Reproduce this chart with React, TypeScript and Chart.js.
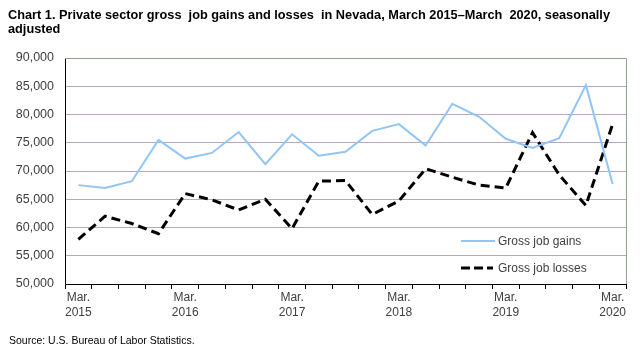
import React, { useEffect, useLayoutEffect, useRef } from 'react';
import { Chart, registerables } from 'chart.js';

Chart.register(...registerables);

const categories = [
  'Mar. 2015', 'Jun. 2015', 'Sep. 2015', 'Dec. 2015',
  'Mar. 2016', 'Jun. 2016', 'Sep. 2016', 'Dec. 2016',
  'Mar. 2017', 'Jun. 2017', 'Sep. 2017', 'Dec. 2017',
  'Mar. 2018', 'Jun. 2018', 'Sep. 2018', 'Dec. 2018',
  'Mar. 2019', 'Jun. 2019', 'Sep. 2019', 'Dec. 2019',
  'Mar. 2020',
];

const grossJobGains = [
  67500, 67000, 68200, 75500, 72200, 73200, 76900, 71200, 76500, 72700, 73400,
  77100, 78300, 74500, 81900, 79600, 75700, 74100, 75800, 85200, 67700,
];

const grossJobLosses = [
  57900, 62000, 60700, 58900, 66000, 64900, 63100, 65000, 59800, 68200, 68300,
  62300, 64700, 70400, 68900, 67500, 67000, 76800, 69300, 63900, 78300,
];

const yMin = 50000;
const yMax = 90000;
const yStep = 5000;

const titleLines = [
  'Chart 1. Private sector gross  job gains and losses  in Nevada, March 2015\u2013March  2020, seasonally',
  'adjusted',
];
const sourceText = 'Source: U.S. Bureau of Labor Statistics.';

const GAINS_COLOR = '#92c5f7';
const LOSSES_COLOR = '#000000';
const TEXT_COLOR = '#404040';
const FONT = '"Liberation Sans", Arial, sans-serif';
const TITLE_WIDTH = 602;

const frameAndLegend = {
  id: 'frameAndLegend',
  afterDatasetsDraw(chart: any) {
    const { ctx, chartArea } = chart;
    const { left, right, top, bottom } = chartArea;
    ctx.save();
    ctx.strokeStyle = '#8fa48f';
    ctx.lineWidth = 1;
    ctx.beginPath();
    ctx.moveTo(left, Math.round(top) + 0.5);
    ctx.lineTo(Math.round(right) + 0.5, Math.round(top) + 0.5);
    ctx.lineTo(Math.round(right) + 0.5, bottom);
    ctx.stroke();

    const lx0 = 461;
    const lx1 = 495;
    const tx = 498;
    const items = [
      { label: chart.data.datasets[0].label, y: 241, color: GAINS_COLOR, width: 2, dash: [] as number[] },
      { label: chart.data.datasets[1].label, y: 268, color: LOSSES_COLOR, width: 3, dash: [9, 4] },
    ];
    ctx.font = `12px ${FONT}`;
    ctx.textBaseline = 'middle';
    ctx.textAlign = 'left';
    for (const it of items) {
      ctx.strokeStyle = it.color;
      ctx.lineWidth = it.width;
      ctx.setLineDash(it.dash);
      ctx.beginPath();
      ctx.moveTo(lx0, it.y);
      ctx.lineTo(it.dash.length ? lx1 - 2 : lx1, it.y);
      ctx.stroke();
      ctx.setLineDash([]);
      ctx.fillStyle = TEXT_COLOR;
      ctx.fillText(it.label, tx, it.y + 0.5);
    }
    ctx.restore();
  },
};

export default function App() {
  const canvasRef = useRef<HTMLCanvasElement | null>(null);
  const titleRef = useRef<HTMLDivElement | null>(null);
  const line1Ref = useRef<HTMLSpanElement | null>(null);

  useLayoutEffect(() => {
    const t = titleRef.current;
    const l1 = line1Ref.current;
    if (!t || !l1) return;
    const w = l1.getBoundingClientRect().width;
    if (w > 0) {
      t.style.transform = `scaleX(${TITLE_WIDTH / w})`;
    }
  }, []);

  useEffect(() => {
    const canvas = canvasRef.current;
    if (!canvas) return;
    const chart = new Chart(canvas, {
      type: 'line',
      data: {
        labels: categories,
        datasets: [
          {
            label: 'Gross job gains',
            data: grossJobGains,
            borderColor: GAINS_COLOR,
            borderWidth: 2,
            pointRadius: 0,
            tension: 0,
            fill: false,
          },
          {
            label: 'Gross job losses',
            data: grossJobLosses,
            borderColor: LOSSES_COLOR,
            borderWidth: 3,
            borderDash: [9, 5],
            pointRadius: 0,
            tension: 0,
            fill: false,
          },
        ],
      },
      options: {
        animation: false,
        responsive: false,
        devicePixelRatio: 1,
        layout: { padding: { top: 58, right: 16, left: 0, bottom: 0 } },
        plugins: {
          legend: { display: false },
          title: { display: false },
          tooltip: { enabled: false },
        },
        scales: {
          x: {
            type: 'category',
            offset: true,
            grid: {
              offset: true,
              drawOnChartArea: false,
              drawTicks: true,
              tickLength: 5,
              color: '#000000',
            },
            border: { display: true, color: '#000000', width: 1 },
            ticks: {
              autoSkip: false,
              maxRotation: 0,
              minRotation: 0,
              padding: 1,
              color: TEXT_COLOR,
              font: { family: FONT, size: 12, lineHeight: 1.25 },
              callback: (_v: any, i: number) => {
                const c = categories[i];
                if (c && c.startsWith('Mar.')) return c.split(' ');
                return '';
              },
            },
            afterFit: (scale: any) => {
              scale.height = 66;
            },
          },
          y: {
            min: yMin,
            max: yMax,
            ticks: {
              stepSize: yStep,
              padding: 11,
              color: TEXT_COLOR,
              font: { family: FONT, size: 12.5 },
              callback: (v: any) => Number(v).toLocaleString('en-US'),
            },
            grid: {
              color: '#b9a5c6',
              lineWidth: 1,
              drawTicks: false,
            },
            border: { display: true, color: '#000000', width: 1 },
            afterFit: (scale: any) => {
              scale.width = 65;
            },
          },
        },
      },
      plugins: [frameAndLegend],
    });
    return () => chart.destroy();
  }, []);

  return (
    <div
      style={{
        position: 'fixed',
        left: 0,
        top: 0,
        width: 642,
        height: 350,
        background: '#ffffff',
        overflow: 'hidden',
      }}
    >
      <canvas
        ref={canvasRef}
        width={642}
        height={350}
        style={{ position: 'absolute', left: 0, top: 0, width: 642, height: 350 }}
      />
      <div
        ref={titleRef}
        style={{
          position: 'absolute',
          left: 8,
          top: 8,
          width: 900,
          transformOrigin: '0 0',
          fontFamily: FONT,
          fontWeight: 'bold',
          fontSize: 13,
          lineHeight: '13.5px',
          color: '#000000',
          whiteSpace: 'pre',
        }}
      >
        <span ref={line1Ref}>{titleLines[0]}</span>
        {'\n'}
        <span>{titleLines[1]}</span>
      </div>
      <div
        style={{
          position: 'absolute',
          left: 9,
          top: 334,
          fontFamily: FONT,
          fontSize: 10.5,
          lineHeight: '12px',
          color: '#000000',
          whiteSpace: 'pre',
        }}
      >
        {sourceText}
      </div>
    </div>
  );
}
